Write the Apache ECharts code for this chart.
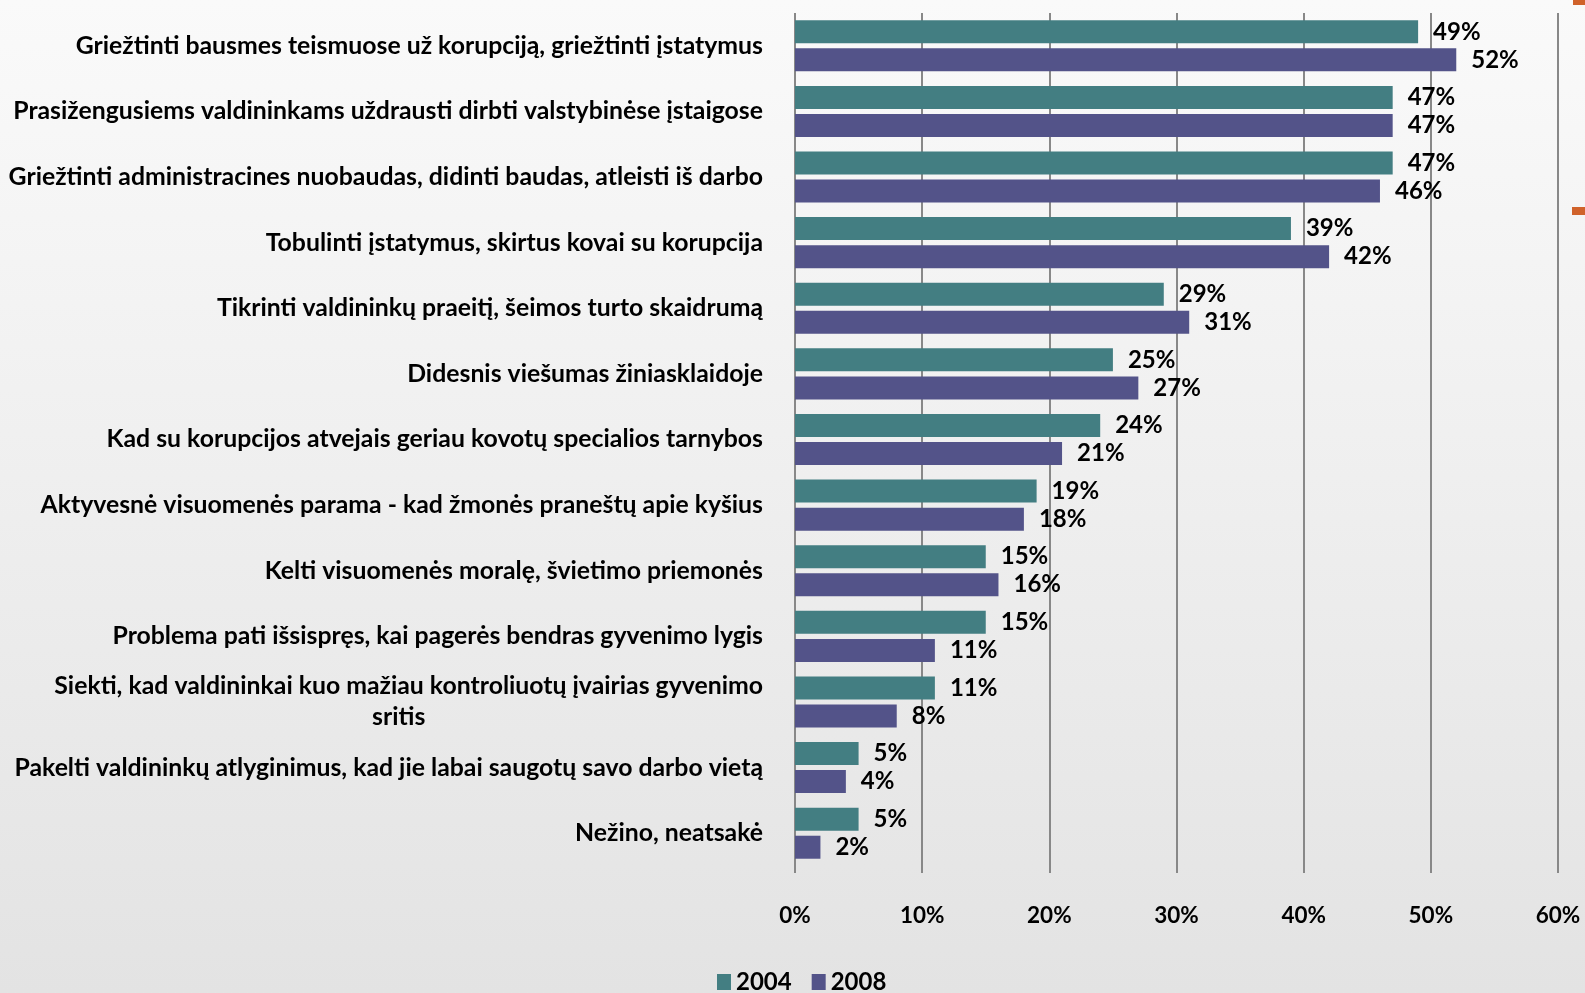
<!DOCTYPE html>
<html><head><meta charset="utf-8">
<script src="https://cdn.jsdelivr.net/npm/echarts@6/dist/echarts.min.js"></script>
<style>html,body{margin:0;padding:0;}#c{width:1585px;height:993px;}</style>
</head><body><div id="c"></div>
<script>
const categories = [
  "Griežtinti bausmes teismuose už korupciją, griežtinti įstatymus",
  "Prasižengusiems valdininkams uždrausti dirbti valstybinėse įstaigose",
  "Griežtinti administracines nuobaudas, didinti baudas, atleisti iš darbo",
  "Tobulinti įstatymus, skirtus kovai su korupcija",
  "Tikrinti valdininkų praeitį, šeimos turto skaidrumą",
  "Didesnis viešumas žiniasklaidoje",
  "Kad su korupcijos atvejais geriau kovotų specialios tarnybos",
  "Aktyvesnė visuomenės parama - kad žmonės praneštų apie kyšius",
  "Kelti visuomenės moralę, švietimo priemonės",
  "Problema pati išsispręs, kai pagerės bendras gyvenimo lygis",
  "Siekti, kad valdininkai kuo mažiau kontroliuotų įvairias gyvenimo\nsritis",
  "Pakelti valdininkų atlyginimus, kad jie labai saugotų savo darbo vietą",
  "Nežino, neatsakė"
];
const seriesNames = ["2004", "2008"];
const values2004 = [49, 47, 47, 39, 29, 25, 24, 19, 15, 15, 11, 5, 5];
const values2008 = [52, 47, 46, 42, 31, 27, 21, 18, 16, 11, 8, 4, 2];
const xTicks = [0, 10, 20, 30, 40, 50, 60];

const FONT = 'Lato';
const CAT_FS = 24.8;
const chart = echarts.init(document.getElementById('c'));
const lblStyle = {show: true, position: 'right', distance: 15, formatter: '{c}%', color: '#000', fontFamily: FONT, fontWeight: 'bold', fontSize: 24};
chart.setOption({
  backgroundColor: new echarts.graphic.LinearGradient(0, 0, 0, 1, [
    {offset: 0, color: '#fafafa'}, {offset: 1, color: '#e3e3e3'}
  ]),
  animation: false,
  grid: {left: 795, right: 27, top: 13, bottom: 127, containLabel: false},
  legend: {
    data: seriesNames, left: 712, top: 965, itemWidth: 14, itemHeight: 16, itemGap: 20,
    textStyle: {fontFamily: FONT, fontWeight: 'bold', fontSize: 24, color: '#000'}, icon: 'rect'
  },
  xAxis: {
    type: 'value', min: xTicks[0], max: xTicks[xTicks.length - 1], interval: 10,
    axisLine: {show: false},
    axisTick: {show: true, length: 7, lineStyle: {color: '#888', width: 2}},
    splitLine: {show: true, lineStyle: {color: '#888', width: 2}},
    axisLabel: {formatter: '{value}%', margin: 38, color: '#000', fontFamily: FONT, fontWeight: 'bold', fontSize: 22.5}
  },
  yAxis: {
    type: 'category', data: categories, inverse: true,
    axisLine: {show: false}, axisTick: {show: false},
    axisLabel: {
      margin: 32, color: '#000', fontFamily: FONT, fontWeight: 'bold', fontSize: CAT_FS, lineHeight: 31,
      formatter: function (v) {
        if (v.indexOf('\n') >= 0) {
          const p = v.split('\n');
          return '{a|' + p[0] + '}\n{c|' + p[1] + '}';
        }
        return v;
      },
      rich: {
        a: {fontFamily: FONT, fontWeight: 'bold', fontSize: CAT_FS, lineHeight: 31, color: '#000'},
        c: {fontFamily: FONT, fontWeight: 'bold', fontSize: CAT_FS, lineHeight: 31, color: '#000', align: 'center', padding: [0, 20, 0, 0]}
      }
    }
  },
  series: [
    {name: seriesNames[0], type: 'bar', data: values2004, barWidth: 23, barGap: '22%', barCategoryGap: '22%',
      itemStyle: {color: '#437e82'}, label: lblStyle},
    {name: seriesNames[1], type: 'bar', data: values2008, barWidth: 23, barGap: '22%', barCategoryGap: '22%',
      itemStyle: {color: '#535389'}, label: lblStyle}
  ],
  graphic: [
    {type: 'rect', shape: {x: 1573, y: 0, width: 12, height: 5}, style: {fill: '#d0622a'}},
    {type: 'rect', shape: {x: 1572, y: 207, width: 13, height: 8}, style: {fill: '#d0622a'}}
  ]
});
</script></body></html>
